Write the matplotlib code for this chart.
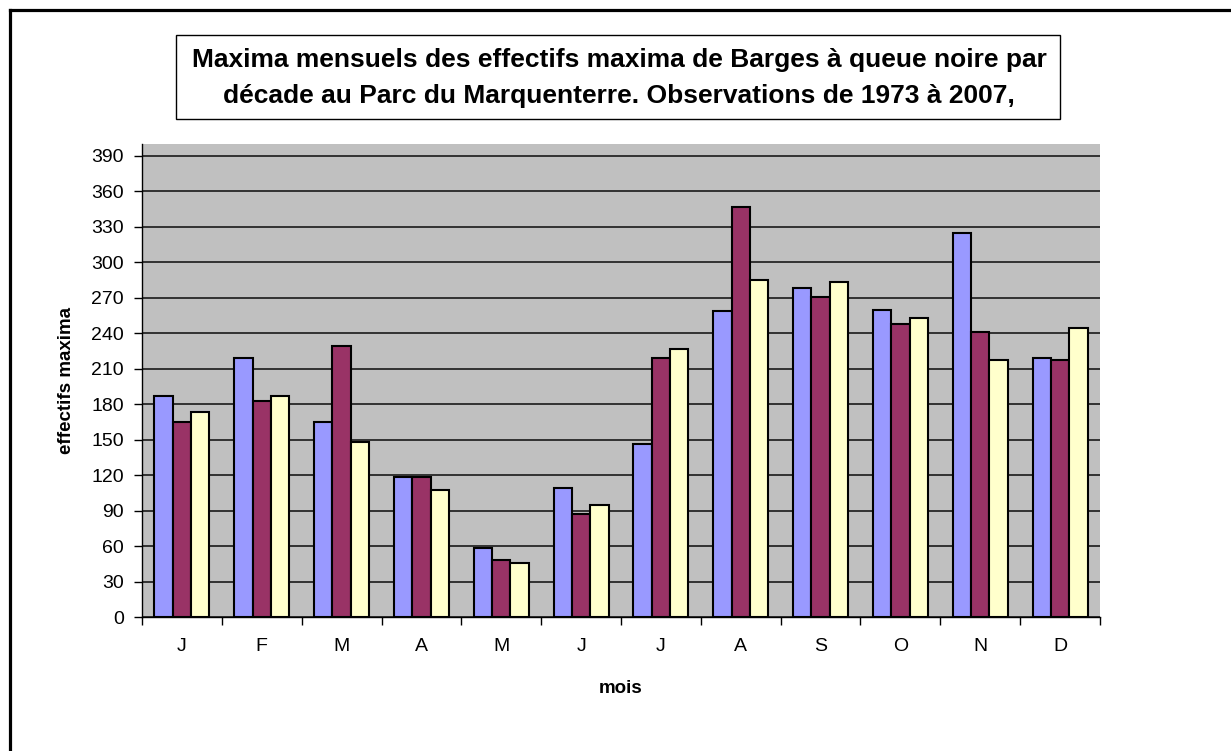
import matplotlib
matplotlib.use("Agg")
import matplotlib.pyplot as plt
import numpy as np
from matplotlib.patches import Rectangle
from matplotlib.lines import Line2D

plt.rcParams['font.family'] = ['Liberation Sans', 'DejaVu Sans']

months = ["J", "F", "M", "A", "M", "J", "J", "A", "S", "O", "N", "D"]
serie1 = [187, 219, 165, 118, 58, 109, 146, 259, 278, 260, 325, 219]
serie2 = [165, 183, 229, 118, 48, 87, 219, 347, 271, 248, 241, 217]
serie3 = [173, 187, 148, 107, 46, 95, 227, 285, 283, 253, 217, 244]
colors = ["#9999FF", "#993366", "#FFFFCC"]
yticks = list(range(0, 391, 30))
title_lines = ["Maxima mensuels des effectifs maxima de Barges à queue noire par",
               "décade au Parc du Marquenterre. Observations de 1973 à 2007,"]

W, H = 1231, 751
fig = plt.figure(figsize=(W / 100, H / 100), dpi=100)
fig.patch.set_facecolor("white")

# outer chart frame (only top and left edges visible)
fig.add_artist(Line2D([9.5 / W, 9.5 / W], [0, 1 - 9.5 / H], transform=fig.transFigure,
                      color="black", linewidth=2.3, solid_capstyle="projecting"))
fig.add_artist(Line2D([9.5 / W, 1], [1 - 9.5 / H, 1 - 9.5 / H], transform=fig.transFigure,
                      color="black", linewidth=2.3, solid_capstyle="projecting"))

left, right, top, bottom = 142, 1100, 144, 617
ax = fig.add_axes([left / W, 1 - bottom / H, (right - left) / W, (bottom - top) / H])
ax.set_facecolor("#C0C0C0")

x = np.arange(len(months))
w = 0.229
for i, (s, c) in enumerate(zip([serie1, serie2, serie3], colors)):
    ax.bar(x + (i - 1) * w, s, width=w, color=c, edgecolor="black", linewidth=1.5, zorder=3)

ax.set_xlim(-0.5, len(months) - 0.5)
ax.set_ylim(0, 400)
ax.set_yticks(yticks)
ax.set_yticklabels([str(v) for v in yticks], fontsize=14)
ax.yaxis.grid(True, color="#1a1a1a", linewidth=1.2, zorder=1)
ax.set_axisbelow(True)
ax.set_xticks(x)
ax.set_xticklabels(months, fontsize=14)
ax.tick_params(axis="x", length=0, pad=15)
ax.set_xticks(np.arange(-0.5, len(months), 1), minor=True)
ax.tick_params(axis="x", which="minor", length=6, direction="out", width=1)
ax.tick_params(axis="y", length=6, direction="out", width=1, pad=7)
for sp in ["top", "right"]:
    ax.spines[sp].set_visible(False)
ax.spines["left"].set_linewidth(1.0)
ax.spines["bottom"].set_linewidth(1.0)

ax.set_xlabel("mois", fontsize=13.5, fontweight="bold", labelpad=18)
ax.set_ylabel("effectifs maxima", fontsize=13.5, fontweight="bold", labelpad=12)

fig.text(619 / W, 1 - 60 / H, title_lines[0], ha="center", va="center",
         fontsize=19, fontweight="bold")
fig.text(619 / W, 1 - 96 / H, title_lines[1], ha="center", va="center",
         fontsize=19, fontweight="bold")
fig.add_artist(Rectangle((176 / W, 1 - 119 / H), (1060 - 176) / W, (119 - 35) / H,
                         transform=fig.transFigure, fill=False, edgecolor="black", linewidth=1))

fig.savefig("out.png", dpi=100)
